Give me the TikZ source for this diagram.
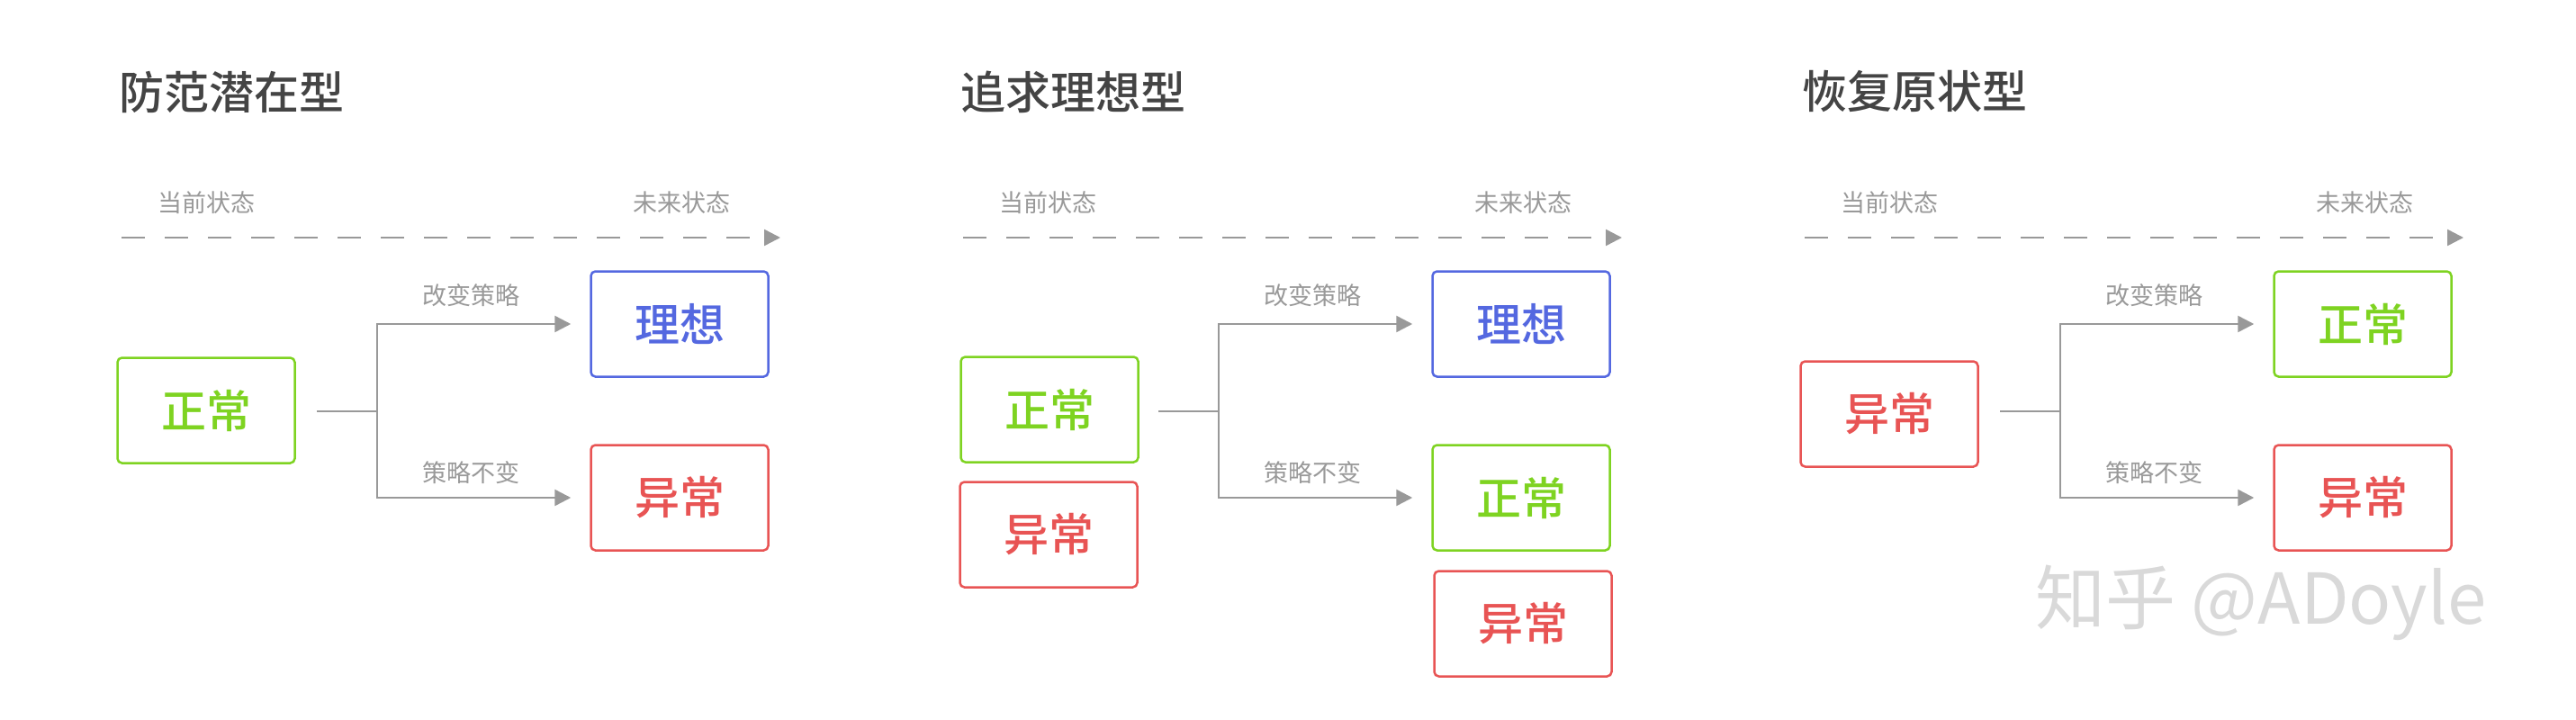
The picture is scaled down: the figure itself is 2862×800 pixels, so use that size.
\documentclass[tikz,border=0pt]{standalone}
\usepackage{fontspec}
\setmainfont{Noto Sans CJK SC}
\newfontfamily\cjkmed{Noto Sans CJK SC Medium}
\usetikzlibrary{arrows.meta}

\definecolor{okgreen}{RGB}{126,211,33}
\definecolor{idealblue}{RGB}{84,104,224}
\definecolor{badred}{RGB}{232,84,84}
\definecolor{tipgray}{RGB}{153,153,153}
\definecolor{titlegray}{RGB}{68,68,68}

\tikzset{every picture/.style={line width=2.5pt},
  state/.style={draw, rounded corners=5pt, minimum width=197pt, minimum height=117pt,
    inner sep=0pt, font=\cjkmed\fontsize{50}{50}\selectfont},
  okbox/.style={state, draw=okgreen, text=okgreen},
  idealbox/.style={state, draw=idealblue, text=idealblue},
  badbox/.style={state, draw=badred, text=badred},
  heading/.style={anchor=west, text=titlegray, font=\cjkmed\fontsize{50}{50}\selectfont},
  note/.style={text=tipgray, font=\fontsize{27}{27}\selectfont},
  timeline/.style={draw=tipgray, line width=2.5pt, dash pattern=on 26pt off 22pt,
    -{Triangle[length=18pt,width=18pt]}},
  flow/.style={draw=tipgray, line width=2.5pt, shorten >=21pt,
    -{Triangle[length=18pt,width=18pt]}}
}

\begin{document}
\begin{tikzpicture}[x=1pt,y=1pt,yscale=-1]
	\useasboundingbox (0,0) rectangle (2862,800);

	%Panel: 防范潜在型
	\node[heading] (t1) at (128,102) {防范潜在型};
	\node[note] (now1) at (229,225) {当前状态};
	\node[note] (fut1) at (757,225) {未来状态};
	\coordinate (a1) at (135,264);
	\coordinate (b1) at (867,264);
	\draw[timeline] (a1) -- (b1);
	\node[okbox] (cur1) at (229,456) {正常};
	\node[idealbox] (up1) at (755,360) {理想};
	\node[badbox] (dn1) at (755,553) {异常};
	\coordinate (s1) at (352,457);
	\coordinate (j1) at (419,457);
	\draw[flow] (s1) -- (j1) |- (up1.west);
	\draw[flow] (j1) |- (dn1.west);
	\node[note] (l1a) at (523,328) {改变策略};
	\node[note] (l1b) at (523,525) {策略不变};

	%Panel: 追求理想型
	\begin{scope}[xshift=935pt]
	\node[heading] (t2) at (128,102) {追求理想型};
	\node[note] (now2) at (229,225) {当前状态};
	\node[note] (fut2) at (757,225) {未来状态};
	\coordinate (a2) at (135,264);
	\coordinate (b2) at (867,264);
	\draw[timeline] (a2) -- (b2);
	\node[okbox] (cur2) at (231,455) {正常};
	\node[badbox] (alt2) at (230,594) {异常};
	\node[idealbox] (up2) at (755,360) {理想};
	\node[okbox] (dn2) at (755,553) {正常};
	\node[badbox] (dn2b) at (757,693) {异常};
	\coordinate (s2) at (352,457);
	\coordinate (j2) at (419,457);
	\draw[flow] (s2) -- (j2) |- (up2.west);
	\draw[flow] (j2) |- (dn2.west);
	\node[note] (l2a) at (523,328) {改变策略};
	\node[note] (l2b) at (523,525) {策略不变};
	\end{scope}

	%Panel: 恢复原状型
	\begin{scope}[xshift=1870pt]
	\node[heading] (t3) at (128,102) {恢复原状型};
	\node[note] (now3) at (229,225) {当前状态};
	\node[note] (fut3) at (757,225) {未来状态};
	\coordinate (a3) at (135,264);
	\coordinate (b3) at (867,264);
	\draw[timeline] (a3) -- (b3);
	\node[badbox] (cur3) at (229,460) {异常};
	\node[okbox] (up3) at (755,360) {正常};
	\node[badbox] (dn3) at (755,553) {异常};
	\coordinate (s3) at (352,457);
	\coordinate (j3) at (419,457);
	\draw[flow] (s3) -- (j3) |- (up3.west);
	\draw[flow] (j3) |- (dn3.west);
	\node[note] (l3a) at (523,328) {改变策略};
	\node[note] (l3b) at (523,525) {策略不变};
	\end{scope}

	% Text Node
	\node[text=black!15, font=\fontsize{78}{78}\selectfont] (mark) at (2512,670) {知乎 @ADoyle};
\end{tikzpicture}
\end{document}
